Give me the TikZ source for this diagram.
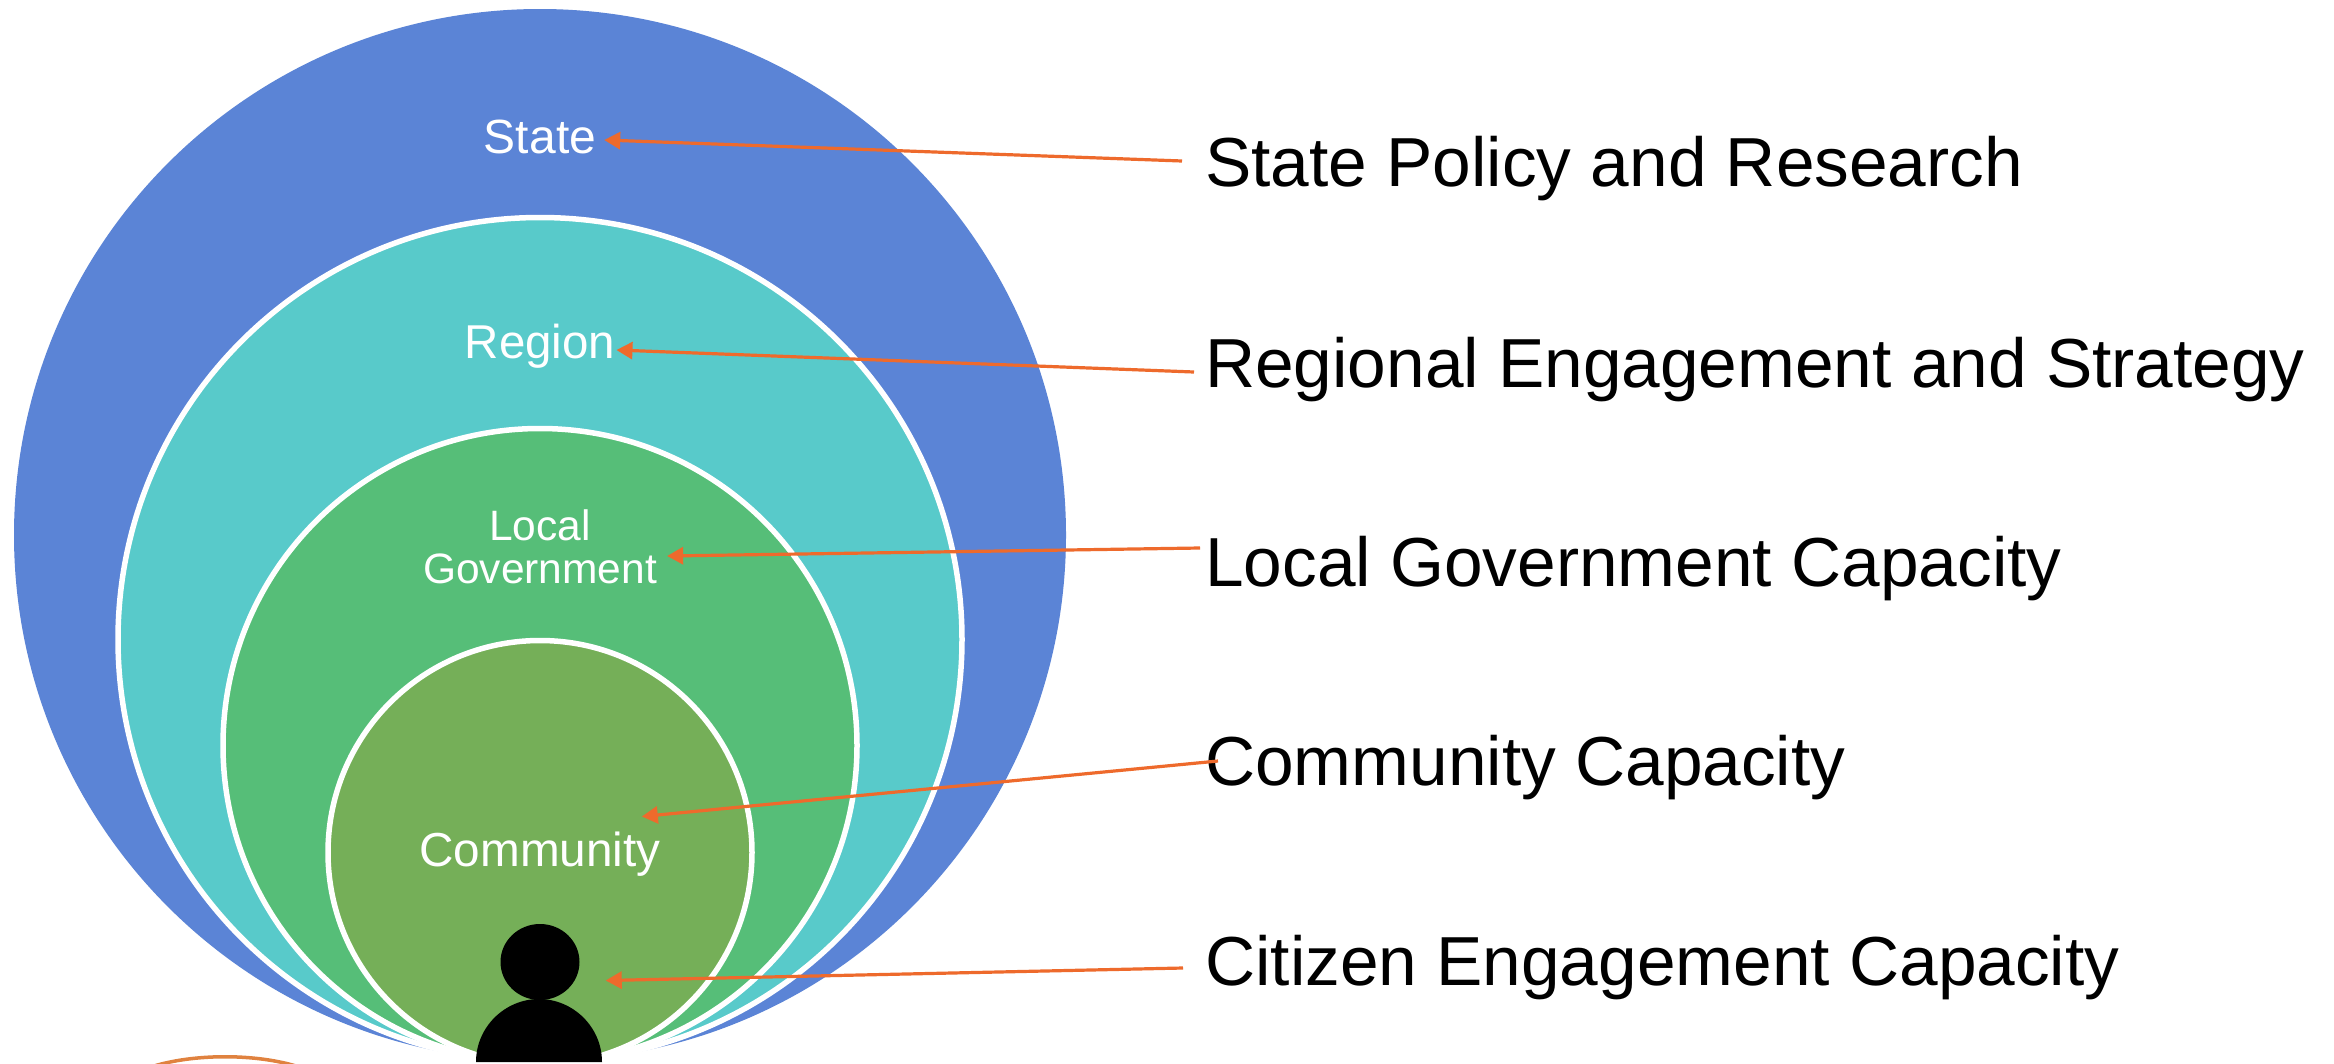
\documentclass[tikz,border=0pt]{standalone}
\usepackage{fontspec}
\setmainfont{Liberation Sans}
\usetikzlibrary{arrows.meta,shapes.geometric}
\definecolor{cstate}{HTML}{5B84D6}
\definecolor{cregion}{HTML}{58CACA}
\definecolor{clocal}{HTML}{56BE78}
\definecolor{ccomm}{HTML}{75AF58}
\definecolor{carrow}{HTML}{EE6A2C}
\definecolor{cstray}{HTML}{E0823F}
\tikzset{
  x=1pt,y=-1pt,
  ring/.style={draw=white,line width=5.5pt,circle,inner sep=0pt,minimum size=#1},
  inlabel/.style={text=white,inner sep=0pt,anchor=base,font=\fontsize{#1}{#1}\selectfont,text height=35pt,text depth=10pt},
  outlabel/.style={text=black,inner sep=0pt,anchor=base west,font=\fontsize{69.4}{69.4}\selectfont,text height=50pt,text depth=14pt},
  conn/.style={draw=carrow,line width=3.2pt,-{Triangle[length=16pt,width=17pt]}},
}
\begin{document}
\begin{tikzpicture}
\useasboundingbox (0,0) rectangle (2334,1063);
\fill[white] (0,0) rectangle (2334,1063);
\draw[cstray,line width=3.5pt] (140,1071) .. controls (185,1052) and (265,1052) .. (310,1071);
% nested circles
\node[circle,fill=cstate,inner sep=0pt,minimum size=1052pt] (cs) at (540,535) {};
\node[ring=844pt,fill=cregion] (cr) at (540,639.5) {};
\node[ring=634pt,fill=clocal] (cl) at (540,745.5) {};
\node[ring=424pt,fill=ccomm] (cc) at (540,852.5) {};
% person
\node[ellipse,fill=black,inner sep=0pt,minimum width=79pt,minimum height=76pt] (head) at (540,962) {};
\fill[black] (476,1062) .. controls (476,1027) and (505,999) .. (539,999) .. controls (573,999) and (602,1027) .. (602,1062) -- cycle;
% inner labels
\node[inlabel=48] (state) at (540,153) {State};
\node[inlabel=47.5] (region) at (540,358) {Region};
\node[text=white,inner sep=0pt,align=center,font=\fontsize{42.5}{43}\selectfont] (local) at (540,547) {Local\\Government};
\node[inlabel=47.7] (community) at (540,866) {Community};
% right labels
\node[outlabel] (t1) at (1205,186) {State Policy and Research};
\node[outlabel] (t2) at (1205,387) {Regional Engagement and Strategy};
\node[outlabel] (t3) at (1205,586) {Local Government Capacity};
\node[outlabel] (t4) at (1205,785) {Community Capacity};
\node[outlabel] (t5) at (1205,985) {Citizen Engagement Capacity};
% connectors
\draw[conn] ([xshift=-23pt,yshift=7pt]t1.west) -- ([xshift=8pt,yshift=0.5pt]state.east);
\draw[conn] ([xshift=-11pt,yshift=-3pt]t2.west) -- ([xshift=1pt,yshift=-4.5pt]region.east);
\draw[conn] ([xshift=-5pt,yshift=20pt]t3.west) -- ([xshift=10pt,yshift=-9pt]local.east);
\draw[conn] ([xshift=13pt,yshift=6pt]t4.west) -- ([xshift=-19pt,yshift=37pt]community.east);
\draw[conn] ([xshift=-22pt,yshift=-1pt]t5.west) -- ([xshift=26pt,yshift=-18.5pt]head.east);
\end{tikzpicture}
\end{document}
